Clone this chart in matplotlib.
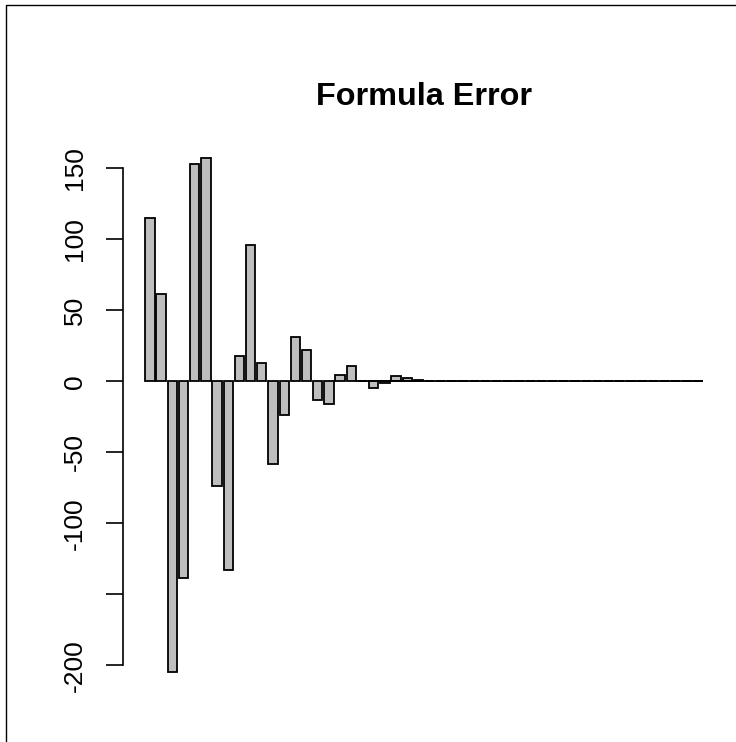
import numpy as np
import matplotlib
matplotlib.use("Agg")
import matplotlib.pyplot as plt
from matplotlib.lines import Line2D

plt.rcParams['font.family'] = ['Liberation Sans', 'DejaVu Sans']

# formula error per term, remaining terms are ~0
errors = [115, 61.5, -205, -138.5, 153, 157.5, -74, -133, 17.5, 96,
          13, -58, -23.5, 31, 22, -13, -16, 4.5, 10.5, 0,
          -4.5, -1.5, 3.5, 2, 1.2] + [0] * 25
yticks = [-200, -150, -100, -50, 0, 50, 100, 150]
ytick_labels = ['-200', '', '-100', '-50', '0', '50', '100', '150']
title = 'Formula Error'

W, H = 736, 742
fig = plt.figure(figsize=(W / 100, H / 100), dpi=100)
ax = fig.add_axes([123 / W, 1 - 693 / H, (725 - 123) / W, (693 - 137) / H])

# R barplot geometry: width 1, space 0.2
n = len(errors)
lefts = 0.2 + 1.2 * np.arange(n)
# zero-height bars merge into one flat line in the original
zero_idx = [i for i, v in enumerate(errors) if v == 0]
ax.hlines(0, lefts[zero_idx[0]] - 0.2, lefts[-1] + 1, color='black',
          linewidth=1.3, clip_on=False)
ax.bar(lefts + 0.5, errors, width=1, color='#BEBEBE', edgecolor='black',
       linewidth=1.3, clip_on=False)

xr = lefts[-1] + 1 - 0.2
ax.set_xlim(0.2 - 0.04 * xr, lefts[-1] + 1 + 0.04 * xr)
lo, hi = min(errors), max(errors)
ax.set_ylim(lo - 0.04 * (hi - lo), hi + 0.04 * (hi - lo))

for s in ['top', 'right', 'bottom']:
    ax.spines[s].set_visible(False)
ax.spines['left'].set_bounds(yticks[0], yticks[-1])
ax.spines['left'].set_linewidth(1.2)
ax.set_xticks([])
ax.set_yticks(yticks)
ax.set_yticklabels(ytick_labels, rotation=90, va='center', fontsize=19)
ax.tick_params(axis='y', length=12.2, width=1.2, pad=14)

fig.text(424 / W, 1 - 105 / H, title, ha='center', va='baseline',
         fontsize=23.3, fontweight='bold')

# frame lines on left and top edges
fig.add_artist(Line2D([6 / W, 6 / W, 1], [0, 1 - 5 / H, 1 - 5 / H],
                      transform=fig.transFigure, color='black', linewidth=1))

fig.savefig('out.png', dpi=100)
